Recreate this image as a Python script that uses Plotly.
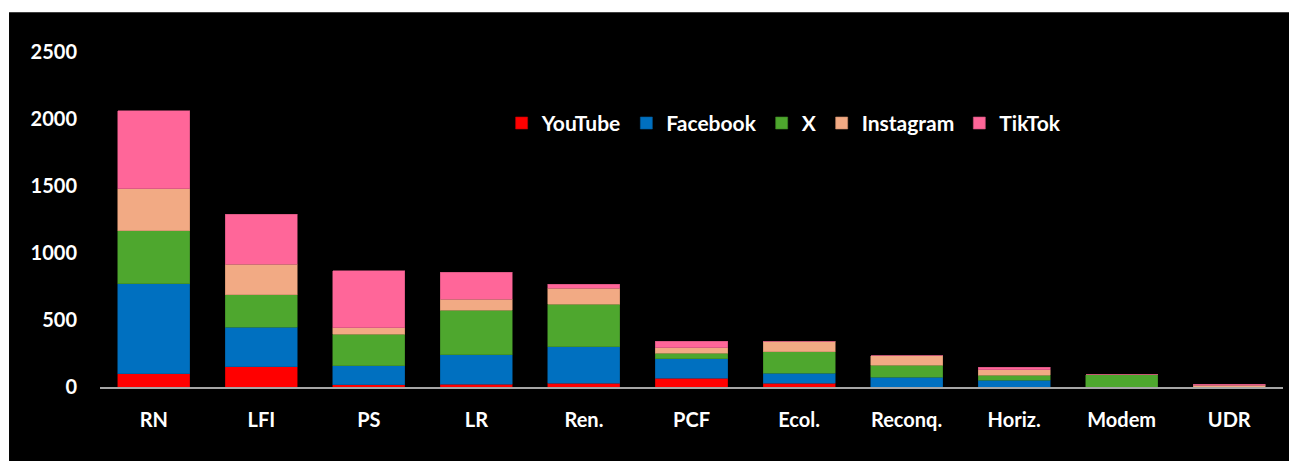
import plotly.graph_objects as go

categories = ["RN", "LFI", "PS", "LR", "Ren.", "PCF", "Ecol.", "Reconq.", "Horiz.", "Modem", "UDR"]
youtube   = [100, 150, 18, 20, 28, 67, 28, 0, 0, 0, 0]
facebook  = [670, 295, 142, 219, 273, 142, 74, 72, 50, 0, 0]
x_twitter = [395, 245, 235, 335, 316, 42, 162, 90, 37, 90, 0]
instagram = [313, 225, 48, 80, 119, 43, 77, 72, 43, 0, 12]
tiktok    = [582, 373, 425, 204, 32, 47, 0, 0, 19, 0, 10]
y_ticks = [0, 500, 1000, 1500, 2000, 2500]

series = [
    ("YouTube", youtube, "#FF0000", "#C00000"),
    ("Facebook", facebook, "#0070C0", "#005A9A"),
    ("X", x_twitter, "#4EA72E", "#3D8524"),
    ("Instagram", instagram, "#F2AA84", "#C98A68"),
    ("TikTok", tiktok, "#FF6699", "#C9507A"),
]

FONT = "Lato"
fig = go.Figure()
for name, vals, col, edge in series:
    fig.add_trace(go.Bar(
        name=name, x=categories, y=vals,
        marker=dict(color=col, line=dict(color=edge, width=0.6)),
    ))

fig.update_layout(
    width=1289, height=461,
    barmode="stack", bargap=0.33,
    paper_bgcolor="white", plot_bgcolor="rgba(0,0,0,0)",
    margin=dict(l=100, r=6, t=52, b=74, pad=0),
    font=dict(family=FONT, color="white", size=20, weight="bold"),
    showlegend=True,
    legend=dict(
        orientation="h", x=0.3395, y=0.787, xanchor="left", yanchor="middle",
        bgcolor="rgba(0,0,0,0)", font=dict(family=FONT, size=21, color="white", weight="bold"),
        itemwidth=30, traceorder="normal", itemclick=False,
    ),
    shapes=[dict(
        type="rect", xref="paper", yref="paper",
        x0=-0.0769, x1=1.02, y0=-0.25, y1=1.119,
        fillcolor="black", line=dict(width=0), layer="below",
    )],
)
fig.update_xaxes(
    showgrid=False, showline=True, linecolor="#A6A6A6", linewidth=2,
    ticks="", ticklabelstandoff=14,
    tickfont=dict(family=FONT, size=20, color="white", weight="bold"),
)
fig.update_yaxes(
    range=[0, 2500], tickvals=y_ticks, showgrid=False, zeroline=False, showline=False,
    ticks="", ticklabelstandoff=22,
    tickfont=dict(family=FONT, size=20, color="white", weight="bold"),
)

fig.write_html(
    "out.html",
    config={"displayModeBar": False},
    post_script=(
        "document.documentElement.style.overflow='hidden';"
        "document.documentElement.style.margin='0';"
        "document.body.style.margin='0';document.body.style.overflow='hidden';"
    ),
)
